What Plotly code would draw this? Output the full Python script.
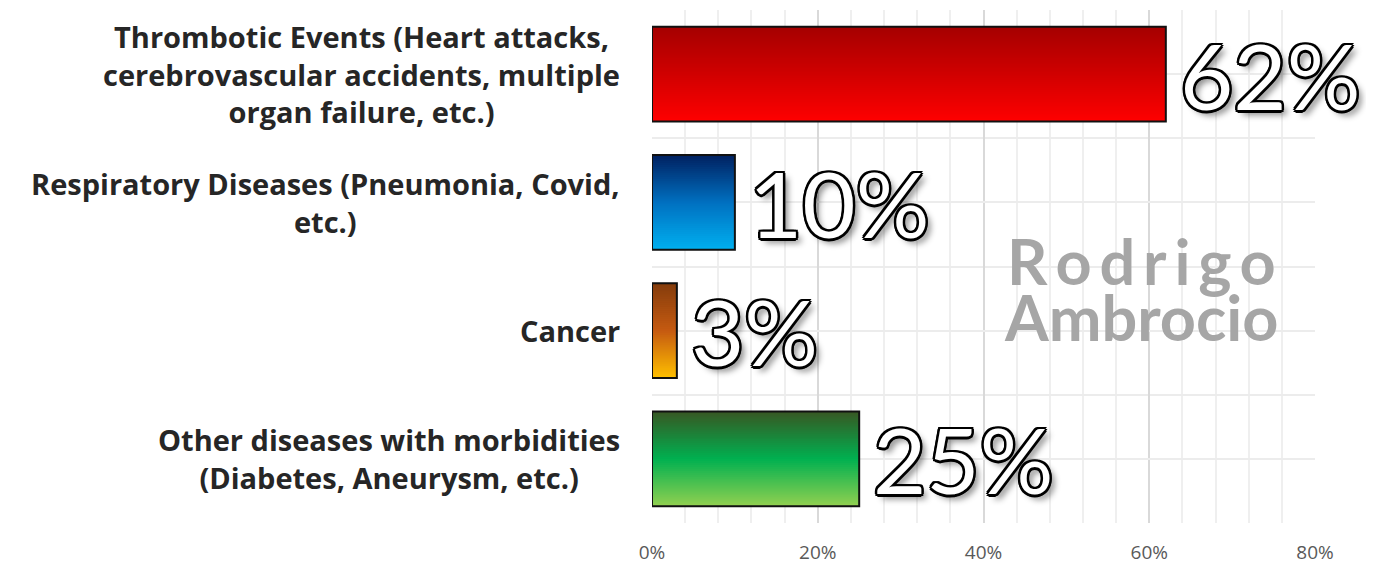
import plotly.graph_objects as go

# data
categories = [
    "Thrombotic Events (Heart attacks,<br>cerebrovascular accidents, multiple<br>organ failure, etc.)",
    "Respiratory Diseases (Pneumonia, Covid,<br>etc.)",
    "Cancer",
    "Other diseases with morbidities<br>(Diabetes, Aneurysm, etc.)",
]
values = [62, 10, 3, 25]
value_labels = ["62%", "10%", "3%", "25%"]
# gradient stops (top, middle, bottom) per bar
gradients = [
    ["#a50000", "#d00000", "#ff0000"],
    ["#002060", "#0070c0", "#00b0f0"],
    ["#843c0c", "#c55a11", "#ffc000"],
    ["#385723", "#00b050", "#92d050"],
]
x_ticks = [0, 20, 40, 60, 80]
x_tick_labels = ["0%", "20%", "40%", "60%", "80%"]
watermark = ["R\u2009o\u2009d\u2009r\u2009i\u2009g\u2009o", "Ambrocio"]

BAR_WIDTH = 0.74
STRIPS = 48
LABEL_FONT = "Open Sans"


def _hex(c):
    c = c.lstrip("#")
    return [int(c[i:i + 2], 16) for i in (0, 2, 4)]


def _mix(stops, t):
    # piecewise linear between the stops
    seg = t * (len(stops) - 1)
    i = min(int(seg), len(stops) - 2)
    f = seg - i
    a, b = _hex(stops[i]), _hex(stops[i + 1])
    r, g, bl = (round(a[k] + (b[k] - a[k]) * f) for k in range(3))
    return f"rgb({r},{g},{bl})"


positions = list(range(len(categories)))
fig = go.Figure()

strip_w = BAR_WIDTH / STRIPS
for s in range(STRIPS):
    t = (s + 0.5) / STRIPS
    fig.add_trace(go.Bar(
        x=values,
        y=positions,
        orientation="h",
        offset=-BAR_WIDTH / 2 + s * strip_w,
        width=strip_w * 1.6 if s < STRIPS - 1 else strip_w,
        marker={"color": [_mix(g, t) for g in gradients], "line": {"width": 0}},
        showlegend=False,
        hoverinfo="skip",
    ))

# outline
fig.add_trace(go.Bar(
    x=values,
    y=positions,
    orientation="h",
    width=BAR_WIDTH,
    marker={"color": "rgba(0,0,0,0)", "line": {"color": "#111111", "width": 2}},
    showlegend=False,
    hovertemplate="%{x}%<extra></extra>",
))

outline = ", ".join(
    f"{dx}px {dy}px 0 #000"
    for dx, dy in [(-2, -2), (2, -2), (-2, 2), (2, 2), (0, 2.5), (2.5, 0), (0, -2.5), (-2.5, 0)]
) + ", 5px 5px 6px rgba(0,0,0,0.45)"

annotations = []
for pos, val, txt in zip(positions, values, value_labels):
    annotations.append(dict(
        x=val, xref="x", y=pos, yref="y",
        text=txt, showarrow=False,
        xanchor="left", yanchor="middle", xshift=12, yshift=0,
        font={"family": "Lato", "size": 92, "color": "white", "shadow": outline},
    ))
for pos, label in zip(positions, categories):
    annotations.append(dict(
        x=-0.045, xref="paper", y=pos, yref="y",
        text=f"<b>{label}</b>", showarrow=False,
        xanchor="right", align="center",
        font={"family": LABEL_FONT, "size": 29, "color": "#262626"},
    ))
for line, yp in zip(watermark, [0.511, 0.402]):
    annotations.append(dict(
        x=0.7376, xref="paper", y=yp, yref="paper",
        text=f"<b>{line}</b>", showarrow=False,
        xanchor="center", yanchor="middle",
        font={"family": "Lato", "size": 63, "color": "#a6a6a6"},
    ))

fig.update_layout(
    width=1358,
    height=559,
    barmode="overlay",
    paper_bgcolor="white",
    plot_bgcolor="white",
    margin={"l": 644, "r": 51, "t": 2, "b": 44},
    annotations=annotations,
    xaxis={
        "range": [0, 80],
        "tickvals": x_ticks,
        "ticktext": x_tick_labels,
        "automargin": False,
        "showgrid": True,
        "gridcolor": "#d9d9d9",
        "gridwidth": 1.5,
        "zeroline": False,
        "showline": False,
        "ticks": "",
        "ticklabelstandoff": 16,
        "tickfont": {"family": LABEL_FONT, "size": 19, "color": "#595959"},
        "minor": {"dtick": 4, "showgrid": True, "gridcolor": "#efefef", "gridwidth": 1.5},
    },
    yaxis={
        "range": [3.5, -0.5],
        "tickvals": positions,
        "showticklabels": False,
        "automargin": False,
        "showgrid": True,
        "gridcolor": "#ececec",
        "gridwidth": 1.5,
        "zeroline": False,
        "showline": False,
        "ticks": "",
        "minor": {"tickvals": [p - 0.5 for p in positions] + [positions[-1] + 0.5],
                  "showgrid": True, "gridcolor": "#ececec", "gridwidth": 1.5},
    },
)

fig.write_html("out.html")
